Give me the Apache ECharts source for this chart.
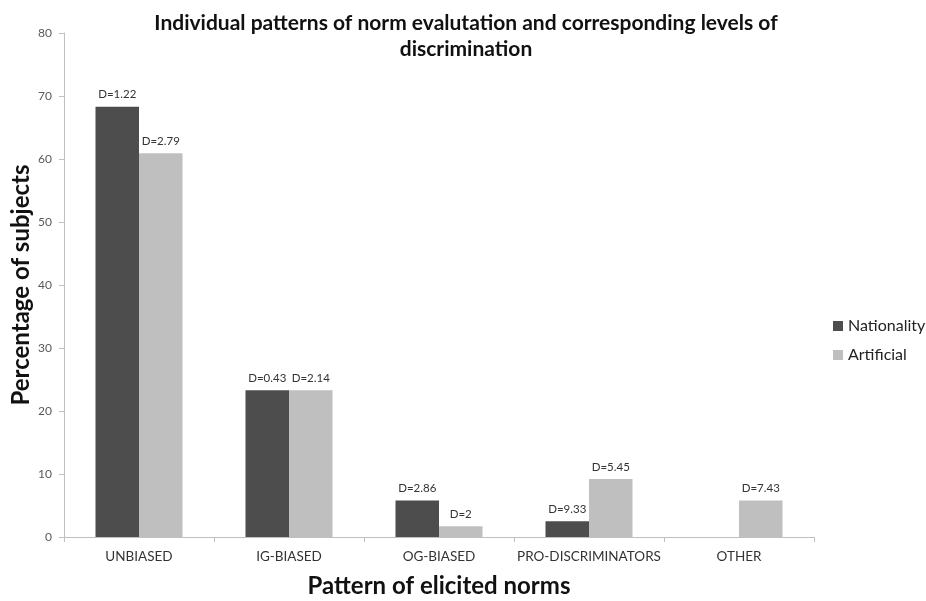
<!DOCTYPE html>
<html>
<head>
<meta charset="utf-8">
<script src="https://cdn.jsdelivr.net/npm/echarts@6/dist/echarts.min.js"></script>
<style>html,body{margin:0;padding:0;background:#fff}#c{width:926px;height:601px}</style>
</head>
<body>
<div id="c"></div>
<script>
var categories = ['UNBIASED', 'IG-BIASED', 'OG-BIASED', 'PRO-DISCRIMINATORS', 'OTHER'];
var nationality = [68.3, 23.3, 5.8, 2.5, 0];
var artificial = [60.9, 23.3, 1.7, 9.2, 5.8];
var nationalityLabels = ['D=1.22', 'D=0.43', 'D=2.86', 'D=9.33', ''];
var artificialLabels = ['D=2.79', 'D=2.14', 'D=2', 'D=5.45', 'D=7.43'];
var yTicks = [0, 10, 20, 30, 40, 50, 60, 70, 80];

var font = 'Lato, "Open Sans", sans-serif';
var chart = echarts.init(document.getElementById('c'), null, {renderer: 'canvas'});
chart.setOption({
  animation: false,
  textStyle: {fontFamily: font},
  title: {
    text: 'Individual patterns of norm evalutation and corresponding levels of\ndiscrimination',
    left: 461, top: 5, textAlign: 'center',
    textStyle: {fontSize: 21, fontWeight: 'bold', color: '#111', lineHeight: 26, fontFamily: font}
  },
  legend: {
    orient: 'vertical', left: 828, top: 313, itemWidth: 10, itemHeight: 10, itemGap: 13,
    icon: 'rect',
    textStyle: {fontSize: 16, color: '#222', fontFamily: font},
    data: ['Nationality', 'Artificial']
  },
  grid: {left: 64, right: 112, top: 33, bottom: 64, outerBoundsMode: 'none', containLabel: false},
  xAxis: {
    type: 'category', data: categories,
    name: 'Pattern of elicited norms', nameLocation: 'middle', nameGap: 37, nameMoveOverlap: false,
    nameTextStyle: {fontSize: 24, fontWeight: 'bold', color: '#111', fontFamily: font},
    axisLine: {lineStyle: {color: '#bfbfbf'}},
    axisTick: {show: true, lineStyle: {color: '#bfbfbf'}, length: 5},
    axisLabel: {interval: 0, fontSize: 13.5, color: '#333', margin: 13, fontFamily: font}
  },
  yAxis: {
    type: 'value', min: 0, max: 80, interval: 10,
    name: 'Percentage of subjects', nameLocation: 'middle', nameGap: 31, nameMoveOverlap: false,
    nameTextStyle: {fontSize: 24, fontWeight: 'bold', color: '#111', fontFamily: font},
    axisLine: {show: true, lineStyle: {color: '#bfbfbf'}},
    axisTick: {show: true, lineStyle: {color: '#bfbfbf'}, length: 5},
    axisLabel: {fontSize: 12, color: '#595959', margin: 12, fontFamily: font,
      formatter: function (v) { return yTicks.indexOf(v) >= 0 ? String(v) : ''; }},
    splitLine: {show: false}
  },
  series: [
    {
      name: 'Nationality', type: 'bar', data: nationality,
      barGap: '0%', barCategoryGap: '42%',
      itemStyle: {color: '#4d4d4d'},
      label: {show: true, position: 'top', fontSize: 11.5, color: '#333', distance: 6,
        formatter: function (p) { return nationalityLabels[p.dataIndex]; }}
    },
    {
      name: 'Artificial', type: 'bar', data: artificial,
      barGap: '0%', barCategoryGap: '42%',
      itemStyle: {color: '#bfbfbf'},
      label: {show: true, position: 'top', fontSize: 11.5, color: '#333', distance: 6,
        formatter: function (p) { return artificialLabels[p.dataIndex]; }}
    }
  ]
});
</script>
</body>
</html>
